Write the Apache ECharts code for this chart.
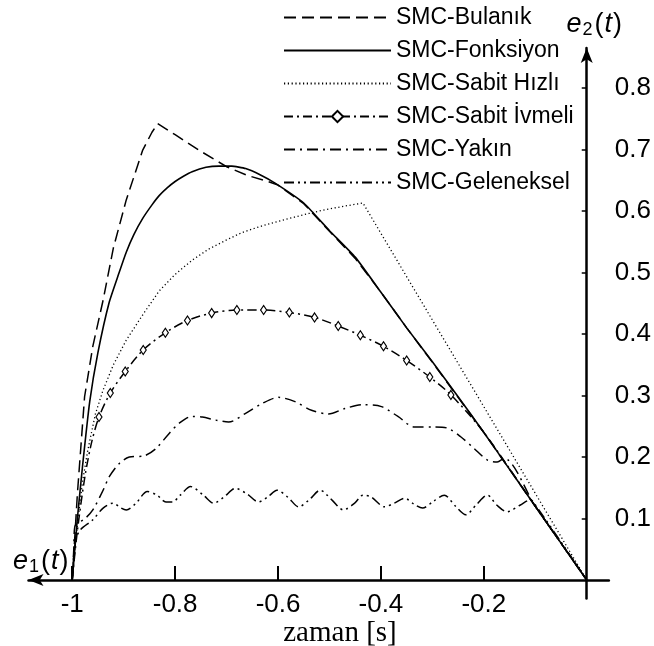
<!DOCTYPE html>
<html>
<head>
<meta charset="utf-8">
<script src="https://cdn.jsdelivr.net/npm/echarts@6/dist/echarts.min.js"></script>
<style>
html,body{margin:0;padding:0;background:#fff;}
#c{width:654px;height:646px;}
</style>
</head>
<body>
<div id="c"></div>
<script>
// ---- data (t, e2) ----
const seriesNames = ['SMC-Bulanık','SMC-Fonksiyon','SMC-Sabit Hızlı','SMC-Sabit İvmeli','SMC-Yakın','SMC-Geleneksel'];
const xTickValues = [-1,-0.8,-0.6,-0.4,-0.2];
const yTickValues = [0.1,0.2,0.3,0.4,0.5,0.6,0.7,0.8];

const bulanik = [[-1,0],[-0.995,0.07],[-0.99,0.14],[-0.976,0.298],[-0.96,0.38],[-0.94,0.455],[-0.92,0.54],[-0.895,0.618],[-0.863,0.699],[-0.845,0.728],[-0.834,0.742],[-0.80,0.724],[-0.75,0.697],[-0.70,0.672],[-0.66,0.658],[-0.62,0.648],[-0.60,0.642],[-0.55,0.612],[-0.5,0.567],[-0.45,0.523],[-0.4,0.468],[-0.35,0.41],[-0.3,0.354],[-0.25,0.297],[-0.2,0.24],[-0.15,0.18],[-0.1,0.12],[-0.05,0.06],[0,0]];

const fonksiyon = [[-1,0],[-0.995,0.05],[-0.99,0.10],[-0.98,0.185],[-0.966,0.29],[-0.95,0.37],[-0.928,0.452],[-0.91,0.497],[-0.895,0.533],[-0.88,0.562],[-0.863,0.588],[-0.845,0.61],[-0.831,0.625],[-0.815,0.638],[-0.80,0.648],[-0.783,0.657],[-0.767,0.664],[-0.74,0.671],[-0.715,0.673],[-0.69,0.673],[-0.663,0.669],[-0.635,0.659],[-0.605,0.645],[-0.55,0.613],[-0.50,0.568],[-0.45,0.525],[-0.40,0.468],[-0.35,0.41],[-0.30,0.355],[-0.25,0.298],[-0.20,0.24],[-0.15,0.18],[-0.10,0.12],[-0.05,0.06],[0,0]];

const sabitHizli = [[-1,0],[-0.995,0.05],[-0.99,0.09],[-0.98,0.16],[-0.97,0.21],[-0.955,0.27],[-0.94,0.309],[-0.92,0.35],[-0.895,0.39],[-0.86,0.435],[-0.831,0.47],[-0.80,0.497],[-0.767,0.52],[-0.735,0.538],[-0.70,0.553],[-0.67,0.565],[-0.638,0.574],[-0.605,0.582],[-0.573,0.589],[-0.54,0.596],[-0.509,0.602],[-0.47,0.608],[-0.435,0.613],[0,0]];

const sabitIvmeli = [[-1,0],[-0.99,0.08],[-0.975,0.17],[-0.962,0.225],[-0.948,0.265],[-0.926,0.304],[-0.897,0.339],[-0.862,0.374],[-0.819,0.402],[-0.776,0.422],[-0.729,0.434],[-0.680,0.439],[-0.628,0.439],[-0.578,0.435],[-0.529,0.427],[-0.483,0.413],[-0.44,0.398],[-0.395,0.38],[-0.35,0.357],[-0.305,0.33],[-0.264,0.301],[-0.2,0.24],[-0.1,0.12],[0,0]];

const yakin = [[-1,0],[-0.997,0.05],[-0.995,0.087],[-0.975,0.10],[-0.960,0.114],[-0.940,0.146],[-0.928,0.168],[-0.908,0.190],[-0.889,0.2],[-0.860,0.202],[-0.837,0.214],[-0.812,0.238],[-0.792,0.255],[-0.767,0.266],[-0.747,0.265],[-0.721,0.26],[-0.696,0.257],[-0.663,0.271],[-0.631,0.287],[-0.599,0.297],[-0.567,0.29],[-0.535,0.276],[-0.502,0.270],[-0.47,0.279],[-0.435,0.285],[-0.399,0.282],[-0.367,0.266],[-0.335,0.249],[-0.296,0.249],[-0.271,0.247],[-0.245,0.233],[-0.219,0.214],[-0.193,0.195],[-0.174,0.192],[-0.161,0.198],[-0.1,0.12],[-0.05,0.06],[0,0]];

const geleneksel = [[-1,0],[-0.997,0.04],[-0.993,0.065],[-0.985,0.081],[-0.96,0.098],[-0.94,0.117],[-0.921,0.125],[-0.905,0.117],[-0.895,0.114],[-0.876,0.125],[-0.854,0.144],[-0.835,0.138],[-0.818,0.127],[-0.805,0.127],[-0.790,0.138],[-0.770,0.152],[-0.745,0.138],[-0.725,0.125],[-0.705,0.135],[-0.683,0.149],[-0.66,0.14],[-0.638,0.127],[-0.62,0.135],[-0.602,0.146],[-0.58,0.134],[-0.560,0.119],[-0.54,0.13],[-0.518,0.146],[-0.495,0.13],[-0.473,0.114],[-0.451,0.125],[-0.435,0.138],[-0.419,0.135],[-0.393,0.119],[-0.374,0.125],[-0.354,0.133],[-0.335,0.123],[-0.319,0.117],[-0.298,0.128],[-0.277,0.138],[-0.255,0.12],[-0.235,0.106],[-0.215,0.122],[-0.193,0.138],[-0.175,0.122],[-0.155,0.111],[-0.129,0.122],[-0.110,0.130],[-0.105,0.128],[-0.05,0.062],[0,0]];

const SANS = 'Liberation Sans, Arial, sans-serif';
const chart = echarts.init(document.getElementById('c'), null, {renderer:'canvas'});

function lineSeries(name, data, dash, width, extra) {
  return Object.assign({
    name: name, type: 'line', data: data, showSymbol: false, symbol: 'none',
    lineStyle: {color:'#000', width: width, type: dash},
    itemStyle: {color:'#000'},
    emphasis: {disabled: true}, silent: true, z: 3
  }, extra || {});
}

const mathRich = (key) => ({
  e: {fontFamily: SANS, fontSize: 27, fontStyle: 'italic', [key]: '#000'},
  s: {fontFamily: SANS, fontSize: 18, [key]: '#000', padding: [11,1,0,1]},
  n: {fontFamily: SANS, fontSize: 27, [key]: '#000', padding: [0,1,0,1]}
});

const option = {
  animation: false,
  backgroundColor: '#fff',
  grid: {left: 28.5, right: 42, top: 48, bottom: 47.5, containLabel: false},
  legend: {
    orient: 'vertical', left: 283, top: 6, padding: 0,
    itemWidth: 107, itemHeight: 14, itemGap: 10,
    textStyle: {fontFamily: SANS, fontSize: 23, color: '#000', lineHeight: 23},
    data: seriesNames.map((n, i) => i === 3 ? {name: n} : {name: n, itemStyle: {opacity: 0}})
  },
  xAxis: {
    type: 'value', min: -1.085, max: 0.043, position: 'bottom',
    axisLine: {onZero: true, symbol: ['arrow','none'], symbolSize: [9,15], lineStyle: {color:'#000', width: 2.5}},
    axisTick: {inside: true, length: 14, customValues: xTickValues, lineStyle: {color:'#000', width: 2}},
    axisLabel: {customValues: xTickValues, fontFamily: SANS, fontSize: 26, color: '#000', margin: -7,
      formatter: v => (Math.abs(v + 1) < 1e-9 ? '-1' : v.toFixed(1))},
    splitLine: {show: false}
  },
  yAxis: {
    type: 'value', min: -0.03, max: 0.865, position: 'right',
    axisLine: {onZero: true, symbol: ['none','arrow'], symbolSize: [9,15], lineStyle: {color:'#000', width: 2.5}},
    axisTick: {inside: true, length: 5, customValues: yTickValues, lineStyle: {color:'#000', width: 1.5}},
    axisLabel: {customValues: yTickValues, fontFamily: SANS, fontSize: 26, color: '#000', margin: 6,
      formatter: v => v.toFixed(1)},
    splitLine: {show: false},
    name: '{e|e}{s|2}{n|(}{e|t}{n|)}',
    nameLocation: 'end', nameGap: 9,
    nameTextStyle: {padding: [0,0,0,16], rich: mathRich('color')}
  },
  graphic: [
    {type: 'text', left: 13, top: 548, silent: true, style: {
      text: '{e|e}{s|1}{n|(}{e|t}{n|)}', rich: mathRich('fill')}},
    {type: 'text', x: 340, y: 633, silent: true, style: {
      text: 'zaman [s]', fontFamily: 'Liberation Serif, Times New Roman, serif', fontSize: 29,
      fill: '#000', align: 'center', verticalAlign: 'middle'}}
  ],
  series: [
    lineSeries(seriesNames[0], bulanik, [12,6], 1.5),
    lineSeries(seriesNames[1], fonksiyon, 'solid', 1.6, {smooth: 0.15}),
    lineSeries(seriesNames[2], sabitHizli, [1.2,2.6], 1.3),
    lineSeries(seriesNames[3], sabitIvmeli, [9,4,2,4], 1.5, {
      smooth: 0.3, showSymbol: true, symbol: 'diamond',
      symbolSize: (v) => (v[0] >= -0.95 && v[0] <= -0.26 ? [6,9] : 0),
      itemStyle: {color: '#fff', borderColor: '#000', borderWidth: 1.2}
    }),
    lineSeries(seriesNames[4], yakin, [11,5,2,5], 1.5, {smooth: 0.3}),
    lineSeries(seriesNames[5], geleneksel, [10,4,2,4,2,4], 1.5, {smooth: 0.3})
  ]
};
chart.setOption(option);
</script>
</body>
</html>
